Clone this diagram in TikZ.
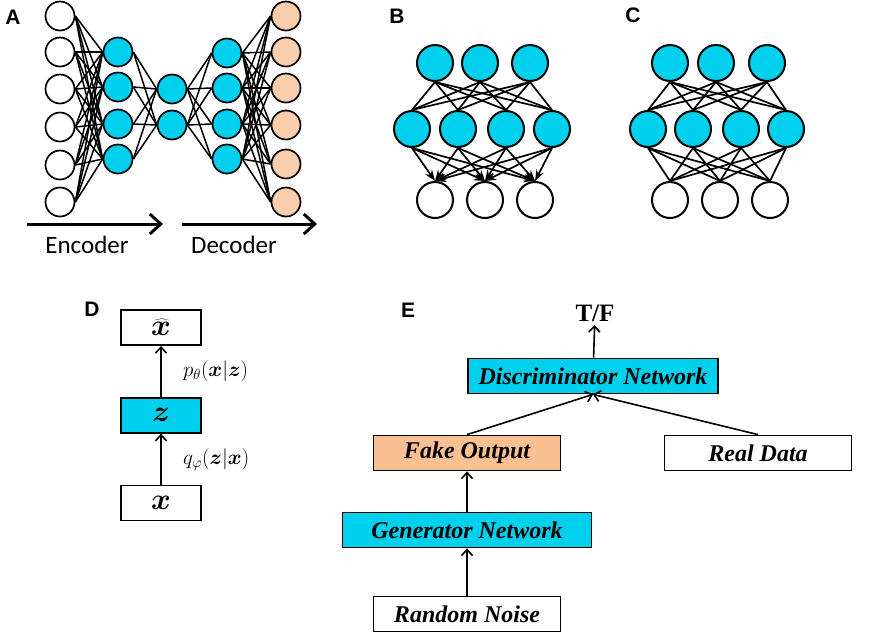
\RequirePackage{fix-cm}
\documentclass[tikz,border=0pt]{standalone}
\usepackage{fontspec}
\usepackage{bm}
\setmainfont{Liberation Serif}
\setsansfont{Carlito}
\newfontfamily\panelfont{Liberation Sans}
\usepackage{xcolor}
\usetikzlibrary{arrows.meta, positioning}

\definecolor{netcyan}{RGB}{0,208,236}
\definecolor{outpeach}{RGB}{250,205,172}
\definecolor{fakepeach}{RGB}{250,192,145}

\tikzset{
  neuron/.style={circle, draw, line width=1.7pt, minimum size=29pt, inner sep=0pt},
  bigneuron/.style={circle, draw, line width=2pt, minimum size=36pt, inner sep=0pt},
  panel/.style={font=\panelfont\bfseries\fontsize{21}{24}\selectfont},
  block/.style={draw, line width=1.8pt, minimum height=35pt, inner sep=0pt,
    font=\bfseries\itshape\fontsize{24}{28}\selectfont},
  vaebox/.style={draw, line width=1.7pt, minimum width=80pt, minimum height=35pt,
    inner sep=0pt, font=\fontsize{30}{32}\selectfont},
  link/.style={line width=1.5pt},
  flow/.style={->, line width=1.6pt},
  bigflow/.style={-{Straight Barb[length=11pt,width=20pt,line width=3pt]}, line width=3pt},
}

\begin{document}
\begin{tikzpicture}[x=1pt, y=-1pt, >={Straight Barb[length=6pt,width=11pt]}]
\useasboundingbox (0,0) rectangle (886,633);

% Etiquetas de paneles
\node[panel] (labA) at (13,17) {A};
\node[panel] (labB) at (397,16) {B};
\node[panel] (labC) at (633,15) {C};
\node[panel] (labD) at (92,309) {D};
\node[panel] (labE) at (408,310) {E};

% Panel A: autoencoder
\foreach \y [count=\i] in {16,52,89,127,165,202}
  \node[neuron] (in\i) at (60,\y) {};
\foreach \y [count=\i] in {52,87,124,159}
  \node[neuron, fill=netcyan] (ha\i) at (118,\y) {};
\foreach \y [count=\i] in {89,125}
  \node[neuron, fill=netcyan] (bn\i) at (172,\y) {};
\foreach \y [count=\i] in {53,88,124,159}
  \node[neuron, fill=netcyan] (hb\i) at (227,\y) {};
\foreach \y [count=\i] in {16,52,88,125,164,202}
  \node[neuron, fill=outpeach] (out\i) at (286,\y) {};

\foreach \i in {1,...,6}
  \foreach \j in {1,...,4}
    \draw[link] (in\i.east) -- (ha\j.west);
\foreach \i in {1,...,4}
  \foreach \j in {1,2}
    \draw[link] (ha\i.east) -- (bn\j.west);
\foreach \i in {1,2}
  \foreach \j in {1,...,4}
    \draw[link] (bn\i.east) -- (hb\j.west);
\foreach \i in {1,...,4}
  \foreach \j in {1,...,6}
    \draw[link] (hb\i.east) -- (out\j.west);

\coordinate (encS) at (27,224);
\coordinate (encE) at (163,224);
\coordinate (decS) at (182,224);
\coordinate (decE) at (317,224);
\draw[bigflow] (encS) -- (encE);
\draw[bigflow] (decS) -- (decE);
\node[font=\sffamily\fontsize{25}{28}\selectfont] (enc) at (87,245) {Encoder};
\node[font=\sffamily\fontsize{25}{28}\selectfont] (dec) at (234,245) {Decoder};

% Panel B
\foreach \x [count=\i] in {435,480,530}
  \node[bigneuron, fill=netcyan] (bt\i) at (\x,63) {};
\foreach \x [count=\i] in {412,458,506,552}
  \node[bigneuron, fill=netcyan] (bm\i) at (\x,129) {};
\foreach \x [count=\i] in {435,485,535}
  \node[bigneuron] (bb\i) at (\x,200) {};
\foreach \i in {1,2,3}
  \foreach \j in {1,...,4}
    \draw[link, line width=1.7pt] (bt\i.south) -- (bm\j.north);
\foreach \i in {1,...,4}
  \foreach \j in {1,2,3}
    \draw[link, line width=1.7pt, -{Stealth[length=11pt,width=8pt]}] (bm\i.south) -- (bb\j.north);

% Panel C
\foreach \x [count=\i] in {670,716,767}
  \node[bigneuron, fill=netcyan] (ct\i) at (\x,63) {};
\foreach \x [count=\i] in {648,693,741,786}
  \node[bigneuron, fill=netcyan] (cm\i) at (\x,129) {};
\foreach \x [count=\i] in {670,720,770}
  \node[bigneuron] (cb\i) at (\x,200) {};
\foreach \i in {1,2,3}
  \foreach \j in {1,...,4}
    \draw[link, line width=1.7pt] (ct\i.south) -- (cm\j.north);
\foreach \i in {1,...,4}
  \foreach \j in {1,2,3}
    \draw[link, line width=1.7pt] (cm\i.south) -- (cb\j.north);

% Panel D: VAE
\node[vaebox] (vx) at (161,503) {$\bm{x}$};
\node[vaebox, fill=netcyan, above=51pt of vx] (vz) {$\bm{z}$};
\node[vaebox, above=51pt of vz] (vxhat) {\raisebox{-3pt}{$\bm{\widehat{x}}$}};
\draw[flow] (vx) -- (vz) node[midway, right=18pt, font=\fontsize{21}{24}\selectfont] (qlab) {$q_{\varphi}(\bm{z}|\bm{x})$};
\draw[flow] (vz) -- (vxhat) node[midway, right=18pt, font=\fontsize{21}{24}\selectfont] (plab) {$p_{\theta}(\bm{x}|\bm{z})$};

% Panel E: GAN
\node[block, fill=netcyan, minimum width=250pt] (disc) at (593,376) {Discriminator Network};
\node[block, fill=fakepeach, minimum width=187pt] (fake) at (467,453) {Fake Output};
\node[block, minimum width=187pt] (real) at (758,453) {Real Data};
\node[block, fill=netcyan, minimum width=249pt] (gen) at (467,530) {Generator Network};
\node[block, minimum width=187pt] (noise) at (467,614) {Random Noise};
\node[font=\bfseries\fontsize{25}{28}\selectfont] (tf) at (595,313) {T/F};

\draw[flow] (noise) -- (gen);
\draw[flow] (gen) -- (fake);
\draw[flow] (fake.north) -- (disc.south);
\draw[flow] (real.north) -- (disc.south);
\draw[flow] (disc) -- (tf);
\end{tikzpicture}
\end{document}
